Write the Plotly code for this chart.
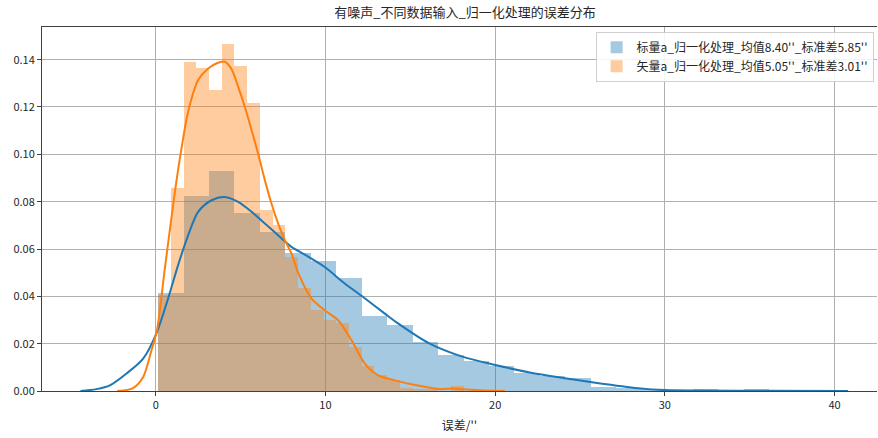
import plotly.graph_objects as go

# ---------------- data ----------------
title_text = "有噪声_不同数据输入_归一化处理的误差分布"
xlabel_text = "误差/''"
names = ["标量a_归一化处理_均值8.40''_标准差5.85''",
         "矢量a_归一化处理_均值5.05''_标准差3.01''"]

bin_start = 0.14
blue_bin_width = 1.5
orange_bin_width = 0.75

blue_density = [0.0412, 0.0825, 0.0928, 0.0753, 0.0672, 0.0581, 0.0551, 0.0478,
                0.0318, 0.0280, 0.0205, 0.0151, 0.0126, 0.0105, 0.0078, 0.0062,
                0.0057, 0.0017, 0.0013, 0.0007, 0.0, 0.0007, 0.0, 0.0007]
orange_density = [0.0405, 0.0858, 0.1390, 0.1363, 0.1271, 0.1466, 0.1373, 0.1217,
                  0.0766, 0.0701, 0.0567, 0.0436, 0.0344, 0.0300, 0.0289, 0.0186,
                  0.0106, 0.0066, 0.0048, 0.0013, 0.0007, 0.0007, 0.0, 0.0023]

blue_kde_x = [-4.43, -3.5, -2.70, -1.72, -0.74, 0.05, 0.73, 1.32, 1.91, 2.50, 3.29,
              4.07, 4.86, 5.65, 6.43, 7.21, 8.0, 8.79, 9.96, 11.14, 12.22, 13.5,
              14.19, 16.15, 18.11, 20.08, 22.04, 24.0, 26.0, 28.43, 30.0, 32.0,
              36.0, 40.8]
blue_kde_y = [0.0, 0.0008, 0.0024, 0.0074, 0.0137, 0.0245, 0.0391, 0.0532, 0.0658,
              0.0757, 0.0806, 0.0820, 0.0799, 0.0757, 0.0708, 0.0658, 0.0609,
              0.0576, 0.0524, 0.0454, 0.0397, 0.0327, 0.0290, 0.0200, 0.0144,
              0.0109, 0.0078, 0.0055, 0.0034, 0.0012, 0.0004, 0.0002, 0.0001, 0.0]

orange_kde_x = [-2.27, -1.8, -1.33, -0.74, -0.25, 0.08, 0.54, 1.13, 1.52, 1.91, 2.50,
                3.09, 3.6, 4.07, 4.47, 4.86, 5.25, 5.65, 6.03, 6.43, 6.82, 7.21,
                7.61, 8.0, 8.39, 9.18, 9.96, 10.75, 11.54, 12.32, 13.11, 14.09,
                15.37, 16.74, 17.52, 18.11, 19.1, 20.57]
orange_kde_y = [0.0, 0.0003, 0.0012, 0.0059, 0.0172, 0.0260, 0.0518, 0.0841, 0.1025,
                0.1180, 0.1314, 0.1363, 0.1385, 0.1391, 0.1360, 0.1285, 0.1201,
                0.1102, 0.1004, 0.0891, 0.0792, 0.0708, 0.0637, 0.0581, 0.0500,
                0.0390, 0.0341, 0.0299, 0.0214, 0.0116, 0.0066, 0.0045, 0.0024,
                0.0008, 0.0011, 0.0007, 0.0003, 0.0]

x_ticks = [0, 10, 20, 30, 40]
y_ticks = [0.00, 0.02, 0.04, 0.06, 0.08, 0.10, 0.12, 0.14]

BLUE = "#1f77b4"
ORANGE = "#ff7f0e"
BLUE_FILL = "rgba(31,119,180,0.4)"
ORANGE_FILL = "rgba(255,127,14,0.4)"
FONT = "Noto Sans CJK SC"

def centers(n, w):
    return [bin_start + w * (i + 0.5) for i in range(n)]

fig = go.Figure()
fig.add_trace(go.Bar(x=centers(len(blue_density), blue_bin_width), y=blue_density,
                     width=blue_bin_width, marker=dict(color=BLUE_FILL, line=dict(width=0)),
                     name=names[0], showlegend=True))
fig.add_trace(go.Scatter(x=blue_kde_x, y=blue_kde_y, mode="lines",
                         line=dict(color=BLUE, width=2, shape="spline", smoothing=0.8),
                         showlegend=False, hoverinfo="skip"))
fig.add_trace(go.Bar(x=centers(len(orange_density), orange_bin_width), y=orange_density,
                     width=orange_bin_width, marker=dict(color=ORANGE_FILL, line=dict(width=0)),
                     name=names[1], showlegend=True))
fig.add_trace(go.Scatter(x=orange_kde_x, y=orange_kde_y, mode="lines",
                         line=dict(color=ORANGE, width=2, shape="spline", smoothing=0.8),
                         showlegend=False, hoverinfo="skip"))

fig.update_layout(
    width=878, height=438,
    margin=dict(l=42, r=1, t=27, b=47, autoexpand=False),
    paper_bgcolor="white", plot_bgcolor="white",
    barmode="overlay", bargap=0,
    font=dict(family=FONT, size=11, color="#262626"),
    title=dict(text=title_text, x=0.5066, xref="paper", xanchor="center",
               y=1 - 12 / 438, yref="container", yanchor="middle",
               font=dict(family=FONT, size=13, color="#262626")),
    legend=dict(x=0.663, y=0.987, xanchor="left", yanchor="top",
                bgcolor="rgba(255,255,255,0.85)", bordercolor="#d0d0d0", borderwidth=1,
                font=dict(family=FONT, size=12, color="#262626"),
                tracegroupgap=2, itemwidth=30),
    xaxis=dict(range=[-6.7, 42.5], tickvals=x_ticks, ticktext=[str(v) for v in x_ticks],
               showgrid=True, gridcolor="#b0b0b0", gridwidth=1, zeroline=False,
               showline=True, linecolor="#404040", linewidth=1, mirror=True,
               ticks="outside", ticklen=4, tickcolor="#404040", automargin=False,
               title=dict(text=xlabel_text, font=dict(family=FONT, size=12), standoff=10)),
    yaxis=dict(range=[0, 0.1538], tickvals=y_ticks, ticktext=[f"{v:.2f}" for v in y_ticks],
               showgrid=True, gridcolor="#b0b0b0", gridwidth=1, zeroline=False,
               showline=True, linecolor="#404040", linewidth=1, automargin=False,
               ticks="outside", ticklen=4, tickcolor="#404040"),
)

fig.write_html("out.html", config={"displayModeBar": False},
               post_script="document.body.style.margin='0';document.body.style.overflow='hidden';")
